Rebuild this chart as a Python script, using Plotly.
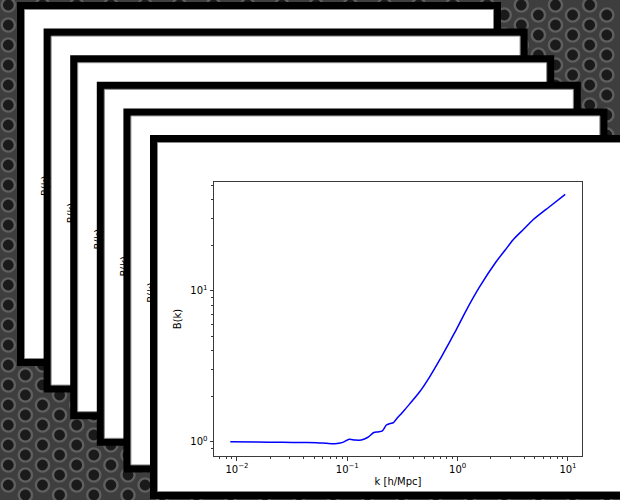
import plotly.graph_objects as go

# ---- data ----
k_vals = [0.0087, 0.015, 0.026, 0.040, 0.053, 0.065, 0.077, 0.091, 0.104, 0.117,
          0.134, 0.154, 0.174, 0.190, 0.208, 0.226, 0.245, 0.262, 0.280, 0.300,
          0.330, 0.368, 0.453, 0.558, 0.687, 0.847, 0.970, 1.20, 1.58, 2.24,
          2.70, 3.17, 4.00, 4.80, 6.80, 9.44]
b_vals = [1.000, 0.995, 0.990, 0.987, 0.985, 0.975, 0.970, 0.990, 1.037, 1.026,
          1.026, 1.070, 1.150, 1.160, 1.180, 1.290, 1.320, 1.340, 1.420, 1.500,
          1.620, 1.780, 2.140, 2.690, 3.480, 4.590, 5.500, 7.450, 10.60, 15.60,
          18.60, 21.70, 25.70, 29.40, 36.00, 43.50]

x_tickvals = [0.01, 0.1, 1, 10]
x_ticktext = ["10<sup>\u22122</sup>", "10<sup>\u22121</sup>", "10<sup>0</sup>", "10<sup>1</sup>"]
y_tickvals = [1, 10]
y_ticktext = ["10<sup>0</sup>", "10<sup>1</sup>"]

x_title = "k [h/Mpc]"
y_title = "B(k)"

W, H = 620, 500
FONT = "DejaVu Sans"
SPINE = "#3a3a3a"

fig = go.Figure()

# ---- background: perforated metal texture (decorative) ----
hx, hy = [], []
for m in range(0, 38):
    cx = 8.3 + 17.1 * m
    off = 5 if m % 2 == 0 else 15
    for n in range(-1, 27):
        hx.append(cx)
        hy.append(off + 20 * n)
fig.add_trace(go.Scatter(
    x=hx, y=hy, mode="markers", xaxis="x", yaxis="y",
    marker=dict(size=13.2, color="#1a1a1a", line=dict(color="#5f5f5f", width=2.4)),
    hoverinfo="skip", showlegend=False, cliponaxis=False))

# ---- stacked cards (decorative), drawn in subplot x2y2 ----
fig.add_trace(go.Scatter(x=[None], y=[None], xaxis="x2", yaxis="y2",
                         hoverinfo="skip", showlegend=False))
step = 26.6
cw, ch, bw = 484, 364, 7.5
shapes = []
annotations = []
for i in range(6):
    x0 = 17 + step * i
    y0 = 2 + step * i
    shapes.append(dict(type="rect", xref="x2", yref="y2", layer="below",
                       x0=x0, x1=x0 + cw, y0=y0, y1=y0 + ch,
                       fillcolor="black", line=dict(width=0)))
    shapes.append(dict(type="rect", xref="x2", yref="y2", layer="below",
                       x0=x0 + bw, x1=x0 + cw - bw, y0=y0 + bw, y1=y0 + ch - bw,
                       fillcolor="white", line=dict(width=1, color="#8a8a8a")))
    if i < 5:
        annotations.append(dict(
            xref="x2", yref="y2", x=178 - step * (5 - i), y=319 - step * (5 - i),
            text=y_title, textangle=-90, showarrow=False,
            font=dict(family=FONT, size=10, color="black")))

# ---- main chart ----
fig.add_trace(go.Scatter(
    x=k_vals, y=b_vals, mode="lines", xaxis="x3", yaxis="y3",
    line=dict(color="#0000ff", width=1.5, shape="spline", smoothing=0.7),
    showlegend=False))

x_minor = [m * 10 ** e for e in range(-3, 2) for m in range(2, 10)]
x_minor = [v for v in x_minor if 0.0062 < v < 13.4]
y_minor = [m * 10 ** e for e in range(-1, 2) for m in range(2, 10)]
y_minor = [v for v in y_minor if 0.80 < v < 52]

hidden = dict(visible=False, domain=[0, 1], fixedrange=True, showgrid=False, zeroline=False)

fig.update_layout(
    width=W, height=H,
    margin=dict(l=0, r=0, t=0, b=0),
    paper_bgcolor="#3e3e3e",
    plot_bgcolor="rgba(0,0,0,0)",
    font=dict(family=FONT, size=10, color="black"),
    showlegend=False,
    shapes=shapes,
    annotations=annotations,
    xaxis=dict(range=[0, W], anchor="y", **hidden),
    yaxis=dict(range=[H, 0], anchor="x", **hidden),
    xaxis2=dict(range=[0, W], anchor="y2", **hidden),
    yaxis2=dict(range=[H, 0], anchor="x2", **hidden),
    xaxis3=dict(
        type="log", range=[-2.208, 1.127], domain=[214 / W, 582 / W], anchor="y3",
        showline=True, linecolor=SPINE, linewidth=1, mirror=True,
        showgrid=False, zeroline=False,
        ticks="outside", ticklen=3.5, tickwidth=1, tickcolor=SPINE,
        tickmode="array", tickvals=x_tickvals, ticktext=x_ticktext,
        minor=dict(tickmode="array", tickvals=x_minor, ticks="outside",
                   ticklen=2, tickwidth=0.8, tickcolor=SPINE, showgrid=False),
        tickfont=dict(family=FONT, size=10, color="black"),
        title=dict(text=x_title, standoff=4, font=dict(family=FONT, size=10, color="black")),
    ),
    yaxis3=dict(
        type="log", range=[-0.0947, 1.72], domain=[44 / H, 318 / H], anchor="x3",
        showline=True, linecolor=SPINE, linewidth=1, mirror=True,
        showgrid=False, zeroline=False,
        ticks="outside", ticklen=3.5, tickwidth=1, tickcolor=SPINE,
        tickmode="array", tickvals=y_tickvals, ticktext=y_ticktext,
        minor=dict(tickmode="array", tickvals=y_minor, ticks="outside",
                   ticklen=2, tickwidth=0.8, tickcolor=SPINE, showgrid=False),
        tickfont=dict(family=FONT, size=10, color="black"),
        title=dict(text=y_title, standoff=6, font=dict(family=FONT, size=10, color="black")),
    ),
)

fig.write_html("out.html")
